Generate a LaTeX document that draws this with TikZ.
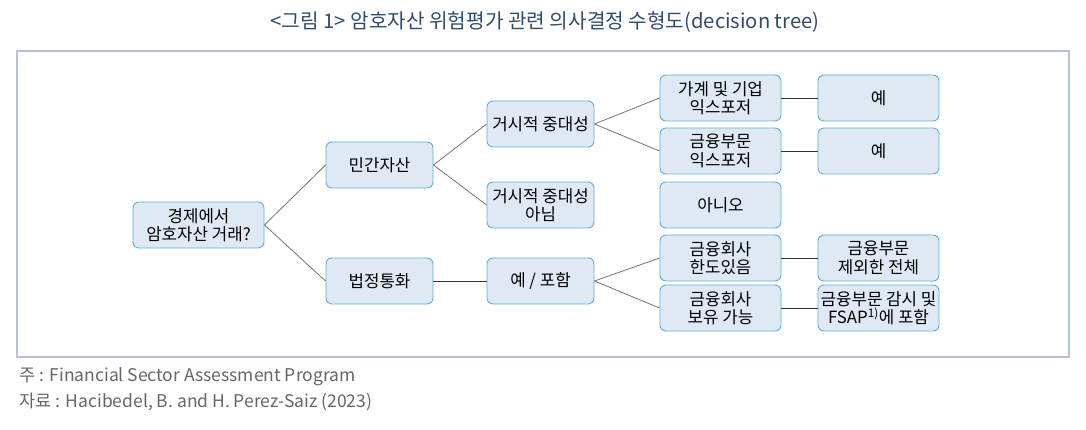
\documentclass[tikz,border=0pt]{standalone}
\usepackage{fontspec}
\setmainfont{Noto Sans CJK KR}
\definecolor{boxfill}{HTML}{DFE9F4}
\definecolor{boxline}{HTML}{5FAEDC}
\definecolor{framecol}{HTML}{B9C1D9}
\definecolor{titlecol}{HTML}{2F4B6E}
\definecolor{notecol}{HTML}{666666}
\begin{document}
\begin{tikzpicture}[x=1pt, y=-1pt,
		box/.style={draw=boxline, fill=boxfill, rounded corners=6pt, line width=0.9pt,
			minimum height=46pt, inner sep=0pt, align=center,
			font=\fontsize{16.8}{18.5}\selectfont},
		small/.style={box, minimum width=107pt},
		wide/.style={box, minimum width=121pt},
		link/.style={draw=black!55, line width=0.8pt},
		flat/.style={draw=black!80, line width=0.8pt}]
		\useasboundingbox (0,0) rectangle (1086,430);
		\node[text=titlecol, font=\fontsize{20.2}{22}\selectfont] (title) at (545,22)
			{<그림 1> 암호자산 위험평가 관련 의사결정 수형도(decision tree)};
		\draw[framecol, line width=2.5pt] (17,51) rectangle (1069,357);

		\node[box, minimum width=131pt] (root) at (198.5,225) {경제에서\\암호자산 거래?};
		\node[small] (private) at (379.5,165) {민간자산};
		\node[small] (legal) at (379.5,281) {법정통화};
		\node[small] (macro) at (540.5,124) {거시적 중대성};
		\node[small] (nomacro) at (540.5,205) {거시적 중대성\\아님};
		\node[small] (incl) at (540.5,281) {예 / 포함};
		\node[wide] (house) at (720.5,98) {가계 및 기업\\익스포저};
		\node[wide] (finexp) at (720.5,151) {금융부문\\익스포저};
		\node[wide] (no) at (720.5,205) {아니오};
		\node[wide] (limit) at (720.5,258) {금융회사\\한도있음};
		\node[wide] (hold) at (720.5,308) {금융회사\\보유 가능};
		\node[wide] (yesa) at (878.5,98) {예};
		\node[wide] (yesb) at (878.5,151) {예};
		\node[wide] (allbut) at (878.5,258) {금융부문\\제외한 전체};
		\node[wide] (fsap) at (878.5,308) {금융부문 감시 및\\FSAP\textsuperscript{1)}에 포함};

		\foreach \a/\b in {root/private, root/legal, private/macro, private/nomacro,
				macro/house, macro/finexp, incl/limit, incl/hold}
			\draw[link] (\a.east) -- (\b.west);
		\foreach \a/\b in {legal/incl, house/yesa, finexp/yesb, limit/allbut, hold/fsap}
			\draw[flat] (\a.east) -- (\b.west);

		\node[anchor=west, text=notecol, font=\fontsize{17.5}{20}\selectfont] (note) at (16,377)
			{주 : Financial Sector Assessment Program};
		\node[anchor=west, text=notecol, font=\fontsize{17.5}{20}\selectfont] (source) at (16,402)
			{자료 : Hacibedel, B. and H. Perez-Saiz (2023)};
	\end{tikzpicture}
\end{document}
